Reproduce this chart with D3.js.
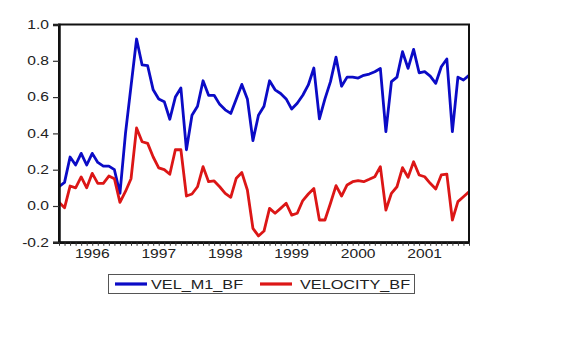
<!DOCTYPE html>
<html><head><meta charset="utf-8">
<script src="https://cdn.jsdelivr.net/npm/d3@7"></script>
<style>body{margin:0;background:#fff}svg{display:block}text{font-family:"Liberation Sans",Arial,sans-serif;fill:#222}</style>
</head><body><svg id="c" width="576" height="360"></svg>
<script>
// Monthly observations 1995M07 .. 2001M09
const startYear = 1995, startMonth = 7, nObs = 75;
const periods = [];
for (let i = 0; i < nObs; i++) {
  const k = startMonth - 1 + i;
  periods.push((startYear + Math.floor(k / 12)) + "M" + String(k % 12 + 1).padStart(2, "0"));
}
const yearLabels = ["1996", "1997", "1998", "1999", "2000", "2001"];
const yTicks = [-0.2, 0.0, 0.2, 0.4, 0.6, 0.8, 1.0];
const seriesNames = ["VEL_M1_BF", "VELOCITY_BF"];

const velM1 = [0.106,0.13,0.27,0.226,0.29,0.226,0.29,0.24,0.22,0.22,0.20,0.07,0.40,0.66,0.92,0.777,0.773,0.64,0.59,0.575,
  0.478,0.60,0.65,0.31,0.50,0.55,0.69,0.61,0.61,0.56,0.53,0.51,0.59,0.67,0.59,0.36,0.50,0.55,0.69,0.64,
  0.62,0.59,0.534,0.566,0.61,0.667,0.76,0.48,0.59,0.685,0.82,0.66,0.71,0.71,0.705,0.72,0.727,0.74,0.758,0.41,
  0.685,0.71,0.85,0.758,0.863,0.734,0.74,0.716,0.676,0.767,0.81,0.41,0.71,0.694,0.72];
const velocity = [0.02,-0.01,0.11,0.10,0.16,0.10,0.18,0.125,0.125,0.165,0.15,0.02,0.08,0.15,0.43,0.354,0.345,0.27,0.21,0.20,
  0.175,0.31,0.31,0.055,0.066,0.106,0.217,0.134,0.138,0.106,0.07,0.048,0.153,0.184,0.088,-0.123,-0.165,-0.138,-0.013,-0.04,
  -0.013,0.015,-0.05,-0.04,0.03,0.066,0.097,-0.077,-0.077,0.015,0.112,0.055,0.116,0.134,0.14,0.134,0.147,0.161,0.217,-0.022,
  0.07,0.106,0.211,0.158,0.244,0.171,0.161,0.125,0.094,0.171,0.176,-0.077,0.024,0.051,0.079];

const colors = ["#0b0bc6", "#dc1616"];
const svg = d3.select("#c");
const L = 59, R = 469, T = 24.5, B = 242.3;
const x = d3.scalePoint().domain(periods).range([L, R]);
const y = d3.scaleLinear().domain([-0.2, 1.0]).range([B, T]);

function stretch(sel, k) {
  sel.each(function () {
    const t = d3.select(this);
    const tx = +t.attr("x") || 0, ty = +t.attr("y") || 0;
    t.attr("x", null).attr("y", null)
      .attr("transform", `translate(${tx},${ty}) scale(${k},1)`);
  });
}

// series
const line = d3.line().x((d, i) => x(periods[i])).y(d => y(d));
[velM1, velocity].forEach((s, j) => {
  svg.append("path").datum(s).attr("d", line)
    .attr("fill", "none").attr("stroke", colors[j])
    .attr("stroke-width", 2.8).attr("stroke-linejoin", "round");
});

// frame
svg.append("rect").attr("x", L).attr("y", T).attr("width", R - L).attr("height", B - T)
  .attr("fill", "none").attr("stroke", "#111").attr("stroke-width", 2);

// left axis
const ga = svg.append("g").attr("transform", `translate(${L},0)`)
  .call(d3.axisLeft(y).tickValues(yTicks).tickFormat(d => d.toFixed(1)).tickSize(6).tickPadding(4));
ga.select(".domain").attr("stroke", "#111").attr("stroke-width", 2.5);
ga.selectAll(".tick line").attr("stroke", "#333").attr("stroke-width", 1.2);
ga.selectAll("text").attr("font-size", 12).attr("fill", "#222").attr("font-family", null);
stretch(ga.selectAll("text"), 1.3);

// bottom axis (monthly ticks)
const gb = svg.append("g").attr("transform", `translate(0,${B})`)
  .call(d3.axisBottom(x).tickValues(periods).tickFormat("").tickSizeInner(3.5).tickSizeOuter(0));
gb.select(".domain").attr("stroke", "#111").attr("stroke-width", 2.5);
gb.selectAll(".tick line").attr("stroke", "#333").attr("stroke-width", 1);

// year labels
const yl = svg.append("g").selectAll("text").data(yearLabels).join("text")
  .attr("x", d => x(d + "M01")).attr("y", 258)
  .attr("text-anchor", "middle").attr("font-size", 12).text(d => d);
stretch(yl, 1.3);

// legend
const lg = svg.append("g");
lg.append("rect").attr("x", 108.5).attr("y", 274.5).attr("width", 306).attr("height", 19)
  .attr("fill", "#fff").attr("stroke", "#555").attr("stroke-width", 1);
const legX = [[115, 147, 151], [260, 292, 300]];
seriesNames.forEach((n, j) => {
  lg.append("line").attr("x1", legX[j][0]).attr("x2", legX[j][1]).attr("y1", 284).attr("y2", 284)
    .attr("stroke", colors[j]).attr("stroke-width", 3.2);
  const t = lg.append("text").attr("x", legX[j][2]).attr("y", 288.5).attr("font-size", 12.5).text(n);
  stretch(t, 1.3);
});
</script></body></html>
